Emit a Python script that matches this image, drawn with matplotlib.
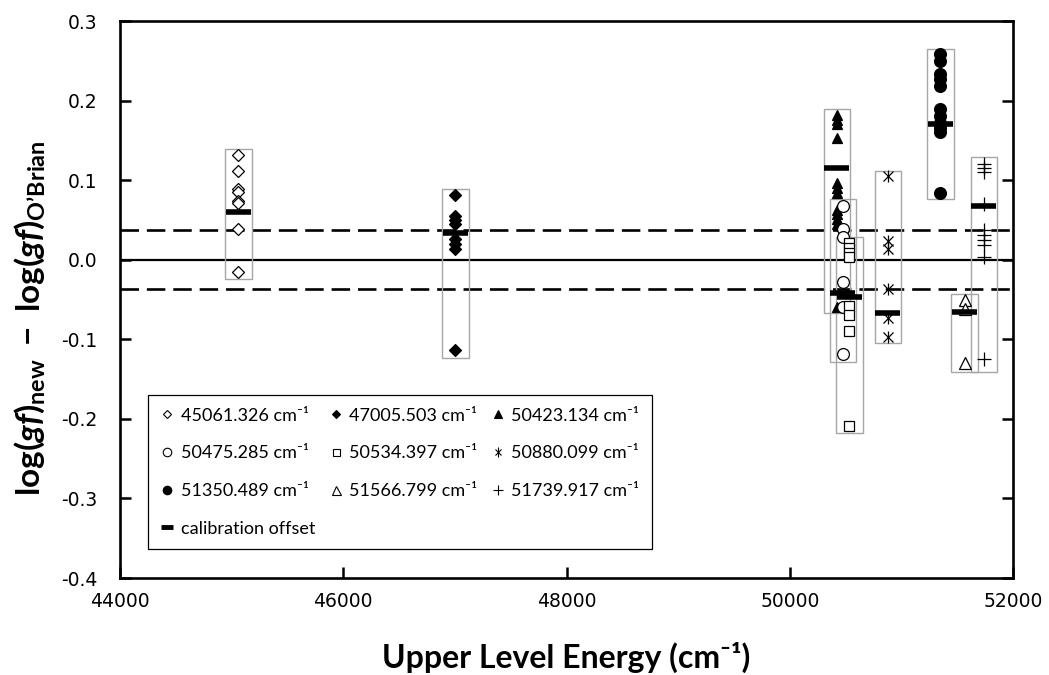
import matplotlib
matplotlib.use("Agg")
import matplotlib.pyplot as plt
from matplotlib.patches import Rectangle
from matplotlib.lines import Line2D
from matplotlib.legend_handler import HandlerTuple

# ---------------- data ----------------
levels = [45061.326, 47005.503, 50423.134, 50475.285, 50534.397,
          50880.099, 51350.489, 51566.799, 51739.917]
labels = ["45061.326 cm\u207b\u00b9", "47005.503 cm\u207b\u00b9", "50423.134 cm\u207b\u00b9",
          "50475.285 cm\u207b\u00b9", "50534.397 cm\u207b\u00b9", "50880.099 cm\u207b\u00b9",
          "51350.489 cm\u207b\u00b9", "51566.799 cm\u207b\u00b9", "51739.917 cm\u207b\u00b9"]

d45061 = [0.132, 0.111, 0.089, 0.085, 0.074, 0.071, 0.039, -0.016]
d47005 = [0.081, 0.055, 0.050, 0.045, 0.026, 0.020, 0.014, -0.113]
d50423 = [0.182, 0.176, 0.170, 0.153, 0.096, 0.090, 0.084, 0.063, 0.057, 0.051, 0.045, -0.059]
d50475 = [0.067, 0.039, 0.029, -0.028, -0.060, -0.118]
d50534 = [0.021, 0.015, 0.009, 0.003, -0.058, -0.069, -0.090, -0.209]
d50880 = [0.105, 0.023, 0.014, -0.037, -0.073, -0.097]
d51350 = [0.258, 0.250, 0.233, 0.227, 0.218, 0.189, 0.180, 0.172, 0.166, 0.160, 0.084]
d51566 = [-0.051, -0.062, -0.130]
d51739 = [0.120, 0.115, 0.110, 0.070, 0.037, 0.031, 0.025, 0.019, 0.003, -0.125]
series = [d45061, d47005, d50423, d50475, d50534, d50880, d51350, d51566, d51739]

offsets = [0.060, 0.034, 0.115, -0.042, -0.047, -0.067, 0.170, -0.066, 0.068]
box_lo = [-0.024, -0.124, -0.067, -0.128, -0.218, -0.105, 0.076, -0.141, -0.141]
box_hi = [0.139, 0.089, 0.190, 0.076, 0.029, 0.112, 0.265, -0.043, 0.129]
limit = 0.037

xticks = [44000, 46000, 48000, 50000, 52000]
yticks = [-0.4, -0.3, -0.2, -0.1, 0.0, 0.1, 0.2, 0.3]

# ---------------- styles ----------------
styles = [
    dict(marker="D", ms=6.3, mfc="white", mec="black", mew=0.9),
    dict(marker="D", ms=6.3, mfc="black", mec="black", mew=0.9),
    dict(marker="^", ms=7.5, mfc="black", mec="black", mew=0.9),
    dict(marker="o", ms=8.5, mfc="white", mec="black", mew=0.9),
    dict(marker="s", ms=7.0, mfc="white", mec="black", mew=0.9),
    None,  # star (x + |)
    dict(marker="o", ms=8.5, mfc="black", mec="black", mew=0.9),
    dict(marker="^", ms=9.0, mfc="white", mec="black", mew=0.9),
    dict(marker="+", ms=10.0, mfc="none", mec="black", mew=0.9),
]

plt.rcParams["mathtext.fontset"] = "custom"
plt.rcParams["mathtext.rm"] = "Lato:bold"
plt.rcParams["mathtext.bf"] = "Lato:bold"
plt.rcParams["mathtext.it"] = "Lato:bold:italic"

fig = plt.figure(figsize=(10.49, 6.75), dpi=100)
ax = fig.add_axes([120 / 1049, 1 - 578 / 675, 893 / 1049, 557 / 675])

half_box = 119
half_bar = 112

for i, x in enumerate(levels):
    ax.add_patch(Rectangle((x - half_box, box_lo[i]), 2 * half_box, box_hi[i] - box_lo[i],
                           facecolor="none", edgecolor="#a6a6a6", lw=1.0, zorder=2))

ax.axhline(0, color="black", lw=1.6, zorder=1)
for s in (limit, -limit):
    ax.axhline(s, color="black", lw=1.9, dashes=(7, 3), zorder=1)

handles = []
for i, (x, vals) in enumerate(zip(levels, series)):
    xs = [x] * len(vals)
    if styles[i] is None:
        ax.plot(xs, vals, ls="none", marker="x", ms=7, mec="black", mew=0.9, zorder=3)
        ax.plot(xs, vals, ls="none", marker="|", ms=9, mec="black", mew=0.9, zorder=3)
        h = (Line2D([], [], ls="none", marker="x", ms=5, mec="black", mew=0.8),
             Line2D([], [], ls="none", marker="|", ms=6.5, mec="black", mew=0.8))
    else:
        ax.plot(xs, vals, ls="none", zorder=3, **styles[i])
        st = dict(styles[i])
        st["ms"] = st["ms"] * 0.72
        st["mew"] = 0.8
        h = Line2D([], [], ls="none", **st)
    handles.append(h)

for i, x in enumerate(levels):
    ax.plot([x - half_bar, x + half_bar], [offsets[i], offsets[i]], color="black",
            lw=4.0, solid_capstyle="butt", zorder=4)

calib = Line2D([], [], color="black", lw=3.5, solid_capstyle="butt")

ax.set_xlim(44000, 52000)
ax.set_ylim(-0.4, 0.3)
ax.set_xticks(xticks)
ax.set_yticks(yticks)
ax.set_xticklabels([str(v) for v in xticks])
ax.set_yticklabels([f"{v:.1f}" for v in yticks])
ax.tick_params(axis="both", direction="in", length=8, width=1.8, labelsize=13.5,
               colors="black")
ax.tick_params(axis="y", right=True, pad=16)
ax.tick_params(axis="x", pad=10)
for sp in ax.spines.values():
    sp.set_linewidth(1.9)

# legend: column-major order to match the row layout
order = [0, 3, 6, "c", 1, 4, 7, 2, 5, 8]
lh, ll = [], []
for o in order:
    if o == "c":
        lh.append(calib)
        ll.append("calibration offset")
    else:
        lh.append(handles[o])
        ll.append(labels[o])
leg = ax.legend(lh, ll, ncol=3, loc="upper left",
                bbox_to_anchor=(0.0314, 0.047, 0.5644, 0.2815), mode="expand",
                frameon=True, fancybox=False, edgecolor="black", framealpha=1,
                prop={"family": ["Lato", "DejaVu Sans"], "size": 13},
                handlelength=0.7, handletextpad=0.4, columnspacing=0.1,
                labelspacing=1.2, borderpad=0.7, borderaxespad=0,
                handler_map={tuple: HandlerTuple(ndivide=1, pad=0)})
leg.get_frame().set_linewidth(0.9)
leg.set_zorder(5)

ax.set_xlabel("Upper Level Energy (cm\u207b\u00b9)", fontsize=23, fontweight="bold",
              family=["Lato", "DejaVu Sans"], labelpad=22)
ax.set_ylabel("$\\mathrm{log(}\\mathit{gf}\\mathrm{)}_{\\mathrm{new}}\\mathrm{\\ -\\ log(}\\mathit{gf}\\mathrm{)}_{\\mathrm{O\u2019Brian}}$",
              fontsize=24)
ax.yaxis.set_label_coords(-0.0817, 0.467)

fig.savefig("out.png", dpi=100)
